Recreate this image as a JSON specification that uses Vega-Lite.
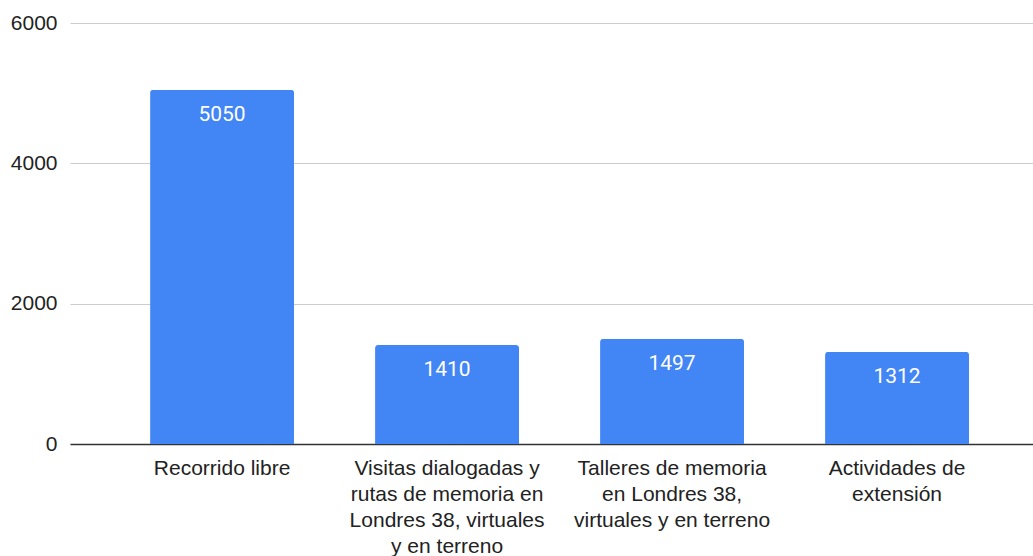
{
  "$schema": "https://vega.github.io/schema/vega-lite/v6.json",
  "autosize": "none",
  "padding": {"left": 70, "top": 23, "right": 0, "bottom": 112},
  "width": 963,
  "height": 421,
  "background": "white",
  "config": {"view": {"stroke": null}},
  "data": {"values": [
    {"categoria": "Recorrido libre", "valor": 5050},
    {"categoria": "Visitas dialogadas y rutas de memoria en Londres 38, virtuales y en terreno", "valor": 1410},
    {"categoria": "Talleres de memoria en Londres 38, virtuales y en terreno", "valor": 1497},
    {"categoria": "Actividades de extensión", "valor": 1312}
  ]},
  "encoding": {
    "x": {
      "field": "categoria", "type": "nominal", "sort": null,
      "scale": {"paddingInner": 0.36, "paddingOuter": 0.32, "align": 0.556},
      "axis": {
        "title": null, "labelAngle": 0, "ticks": false,
        "domainColor": "#333333", "domainWidth": 1.5,
        "labelFont": "Liberation Sans", "labelFontSize": 21, "labelColor": "#222222",
        "labelPadding": 13, "labelLineHeight": 26, "labelBaseline": "top", "labelLimit": 0,
        "labelExpr": "datum.value == 'Visitas dialogadas y rutas de memoria en Londres 38, virtuales y en terreno' ? ['Visitas dialogadas y','rutas de memoria en','Londres 38, virtuales','y en terreno'] : datum.value == 'Talleres de memoria en Londres 38, virtuales y en terreno' ? ['Talleres de memoria','en Londres 38,','virtuales y en terreno'] : datum.value == 'Actividades de extensión' ? ['Actividades de','extensión'] : datum.value"
      }
    },
    "y": {
      "field": "valor", "type": "quantitative",
      "scale": {"domain": [0, 6000], "nice": false},
      "axis": {
        "title": null, "values": [0, 2000, 4000, 6000], "format": "d", "ticks": false, "domain": false,
        "gridColor": "#cccccc", "gridWidth": 1,
        "labelFont": "Liberation Sans", "labelFontSize": 21, "labelColor": "#222222",
        "labelPadding": 13
      }
    }
  },
  "layer": [
    {"mark": {"type": "bar", "color": "#4285F4", "cornerRadiusTopLeft": 3, "cornerRadiusTopRight": 3}},
    {"mark": {"type": "text", "color": "white", "font": "Roboto", "fontSize": 21, "baseline": "top", "dy": 14},
     "encoding": {"text": {"field": "valor", "type": "quantitative", "format": "d"}}}
  ]
}
